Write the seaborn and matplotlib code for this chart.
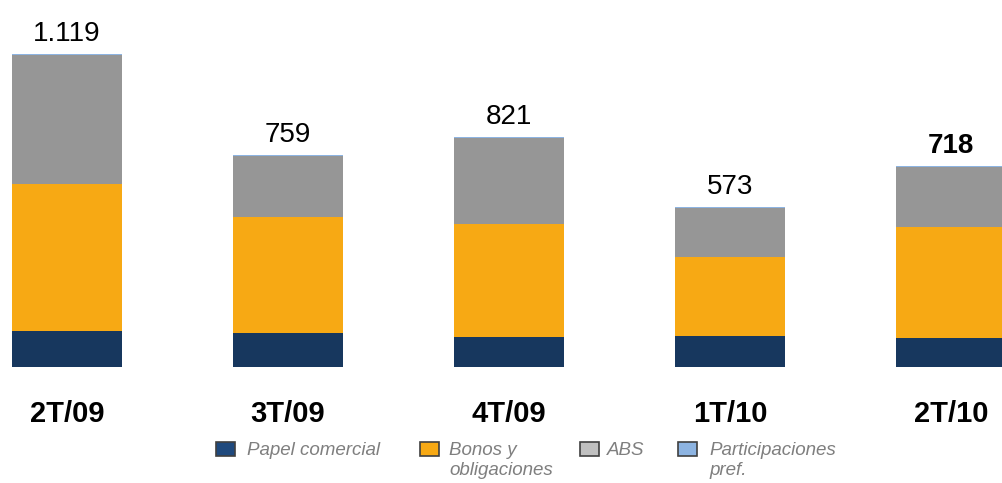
import matplotlib
matplotlib.use("Agg")
import matplotlib.pyplot as plt
import matplotlib.patches as mpatches
import seaborn as sns
import pandas as pd

# Datos (millones)
periodos = ['2T/09', '3T/09', '4T/09', '1T/10', '2T/10']
papel_comercial = [129, 122, 108, 111, 104]
bonos = [527, 414, 402, 283, 397]
abs_ = [459, 220, 308, 176, 214]
participaciones = [4, 3, 3, 3, 3]
totales = [1119, 759, 821, 573, 718]

series = ['Papel comercial', 'Bonos y\nobligaciones', 'ABS', 'Participaciones\npref.']
colores_barra = ['#17375E', '#F7A914', '#969696', '#8DB4E2']
colores_leyenda = ['#1F497D', '#F7A914', '#C0C0C0', '#8DB4E2']

df = pd.DataFrame({
    'periodo': periodos,
    'papel': papel_comercial,
    'bonos': bonos,
    'abs': abs_,
    'part': participaciones,
})
# acumulados para apilar (se dibuja de arriba hacia abajo)
df['c_papel'] = df['papel']
df['c_bonos'] = df['c_papel'] + df['bonos']
df['c_abs'] = df['c_bonos'] + df['abs']
df['c_part'] = df['c_abs'] + df['part']

sns.set_theme(style="white")
plt.rcParams['font.family'] = ['Liberation Sans', 'DejaVu Sans']

fig = plt.figure(figsize=(10.03, 4.83), dpi=100)
ax = fig.add_axes([0, 116 / 483, 1, 367 / 483])

for col, color in zip(['c_part', 'c_abs', 'c_bonos', 'c_papel'], colores_barra[::-1]):
    sns.barplot(data=df, x='periodo', y=col, order=periodos, color=color,
                width=0.5, saturation=1, ax=ax, linewidth=0)

ax.set_xlim(-0.303, 4.235)
ax.set_ylim(0, 1119 * 367 / 313)
ax.set_xlabel('')
ax.set_ylabel('')
ax.set_yticks([])
sns.despine(ax=ax, left=True, bottom=True)
ax.tick_params(axis='x', length=0, pad=24)
for lbl in ax.get_xticklabels():
    lbl.set_fontsize(21)
    lbl.set_fontweight('bold')
    lbl.set_color('black')

# Etiquetas de totales
for i, t in enumerate(totales):
    txt = f"{t:,}".replace(',', '.')
    ax.annotate(txt, (i, t), xytext=(0, 5), textcoords='offset points',
                ha='center', va='bottom', fontsize=20,
                fontweight='bold' if i == len(totales) - 1 else 'normal',
                color='black', annotation_clip=False)

# Leyenda
W, H = 1003, 483
handles_x = [216, 420, 580, 678]
texto_x = [247, 449, 607, 709]
for hx, tx, nombre, c in zip(handles_x, texto_x, series, colores_leyenda):
    rect = mpatches.Rectangle((hx / W, 1 - 456 / H), 19 / W, 14 / H,
                              transform=fig.transFigure, facecolor=c,
                              edgecolor='#404040', linewidth=1.2)
    fig.add_artist(rect)
    fig.text(tx / W, 1 - 442 / H, nombre, ha='left', va='top', fontsize=13.5,
             style='italic', color='#7F7F7F', linespacing=1.25)

fig.savefig('out.png', dpi=100)
